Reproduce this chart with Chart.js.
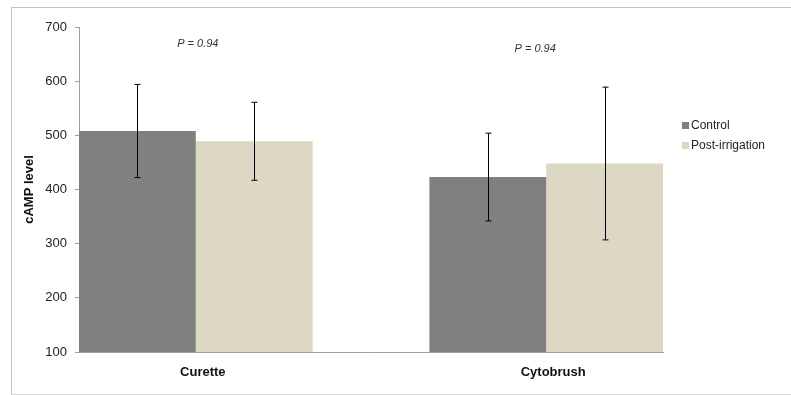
<!DOCTYPE html>
<html>
<head>
<meta charset="utf-8">
<script src="https://cdn.jsdelivr.net/npm/chart.js@4.4.0/dist/chart.umd.min.js"></script>
<style>
  body { margin: 0; background: #fff; overflow: hidden; }
  #wrap { position: relative; width: 791px; height: 395px; overflow: hidden; }
  #frame { position: absolute; left: 11px; top: 7px; width: 780px; height: 386px;
           border-left: 1px solid #c4c4c4; border-top: 1px solid #c4c4c4; border-bottom: 1px solid #d8d8d8; }
  canvas { position: absolute; left: 0; top: 0; }
</style>
</head>
<body>
<div id="wrap">
  <div id="frame"></div>
  <canvas id="myChart" width="791" height="395"></canvas>
</div>
<script>
// data
const categories = ['Curette', 'Cytobrush'];
const controlValues = [508, 423];
const controlErrors = [86, 81];
const postValues = [489, 448];
const postErrors = [72, 141];
const pLabels = ['P = 0.94', 'P = 0.94'];
const yTicks = [100, 200, 300, 400, 500, 600, 700];

// group centres on a linear axis (bar width = 1 unit)
const groupPos = [1, 4];

function toPoints(values) {
    return values.map(function(v, i) { return { x: groupPos[i], y: v }; });
}

// error bars
const errorBarPlugin = {
    id: 'errorBars',
    afterDatasetsDraw: function(chart) {
        const ctx = chart.ctx;
        const yScale = chart.scales.y;
        ctx.save();
        ctx.strokeStyle = '#000';
        ctx.lineWidth = 1;
        chart.data.datasets.forEach(function(ds, di) {
            const meta = chart.getDatasetMeta(di);
            meta.data.forEach(function(bar, i) {
                const v = ds.data[i].y;
                const e = ds.errors[i];
                const x = Math.round(bar.x) + 0.5;
                const yTop = yScale.getPixelForValue(v + e);
                const yBot = yScale.getPixelForValue(v - e);
                ctx.beginPath();
                ctx.moveTo(x, yTop);
                ctx.lineTo(x, yBot);
                ctx.moveTo(x - 3, yTop);
                ctx.lineTo(x + 3, yTop);
                ctx.moveTo(x - 3, yBot);
                ctx.lineTo(x + 3, yBot);
                ctx.stroke();
            });
        });
        ctx.restore();
    }
};

// P value notes and legend
const notesPlugin = {
    id: 'notes',
    afterDraw: function(chart) {
        const ctx = chart.ctx;
        const xScale = chart.scales.x;
        const yScale = chart.scales.y;
        ctx.save();
        ctx.fillStyle = '#333';
        ctx.font = 'italic 11px "Liberation Sans", Arial, sans-serif';
        ctx.textAlign = 'center';
        ctx.textBaseline = 'middle';
        ctx.fillText(pLabels[0], xScale.getPixelForValue(groupPos[0]) + 2, yScale.getPixelForValue(668));
        ctx.fillText(pLabels[1], xScale.getPixelForValue(groupPos[1]) - 11, yScale.getPixelForValue(660));

        // legend
        ctx.font = '12px "Liberation Sans", Arial, sans-serif';
        ctx.textAlign = 'left';
        chart.data.datasets.forEach(function(ds, i) {
            const yy = 125 + i * 20;
            ctx.fillStyle = ds.backgroundColor;
            ctx.fillRect(682, yy - 3, 7, 7);
            ctx.fillStyle = '#222';
            ctx.fillText(ds.label, 691, yy + 1);
        });
        ctx.restore();
    }
};

const ctx = document.getElementById('myChart').getContext('2d');
new Chart(ctx, {
    type: 'bar',
    data: {
        datasets: [{
            label: 'Control',
            data: toPoints(controlValues),
            errors: controlErrors,
            backgroundColor: '#808080',
            borderWidth: 0,
            categoryPercentage: 2 / 3,
            barPercentage: 1
        }, {
            label: 'Post-irrigation',
            data: toPoints(postValues),
            errors: postErrors,
            backgroundColor: '#ddd8c3',
            borderWidth: 0,
            categoryPercentage: 2 / 3,
            barPercentage: 1
        }]
    },
    options: {
        responsive: false,
        animation: false,
        layout: {
            padding: { left: 22, right: 128, top: 27, bottom: 0 }
        },
        plugins: {
            legend: { display: false },
            tooltip: { enabled: false }
        },
        scales: {
            x: {
                type: 'linear',
                min: 0,
                max: 5,
                offset: false,
                afterBuildTicks: function(axis) {
                    axis.ticks = groupPos.map(function(v) { return { value: v }; });
                },
                afterFit: function(axis) { axis.height = 43; },
                grid: { offset: false, drawOnChartArea: false, drawTicks: false },
                border: { display: true, color: '#a0a0a0' },
                ticks: {
                    autoSkip: false,
                    maxRotation: 0,
                    padding: 13,
                    labelOffset: 7,
                    color: '#111',
                    font: { family: '"Liberation Sans", Arial, sans-serif', size: 13, weight: 'bold' },
                    callback: function(value) {
                        return categories[groupPos.indexOf(value)];
                    }
                }
            },
            y: {
                min: 100,
                max: 700,
                afterBuildTicks: function(axis) {
                    axis.ticks = yTicks.map(function(v) { return { value: v }; });
                },
                afterFit: function(axis) { axis.width = 57; },
                grid: { drawOnChartArea: false, drawTicks: true, tickLength: 4, color: '#a0a0a0' },
                border: { display: true, color: '#a0a0a0' },
                ticks: {
                    padding: 8,
                    color: '#222',
                    font: { family: '"Liberation Sans", Arial, sans-serif', size: 13 }
                },
                title: {
                    display: true,
                    text: 'cAMP level',
                    padding: 0,
                    color: '#111',
                    font: { family: '"Liberation Sans", Arial, sans-serif', size: 13, weight: 'bold' }
                }
            }
        }
    },
    plugins: [errorBarPlugin, notesPlugin]
});
</script>
</body>
</html>
